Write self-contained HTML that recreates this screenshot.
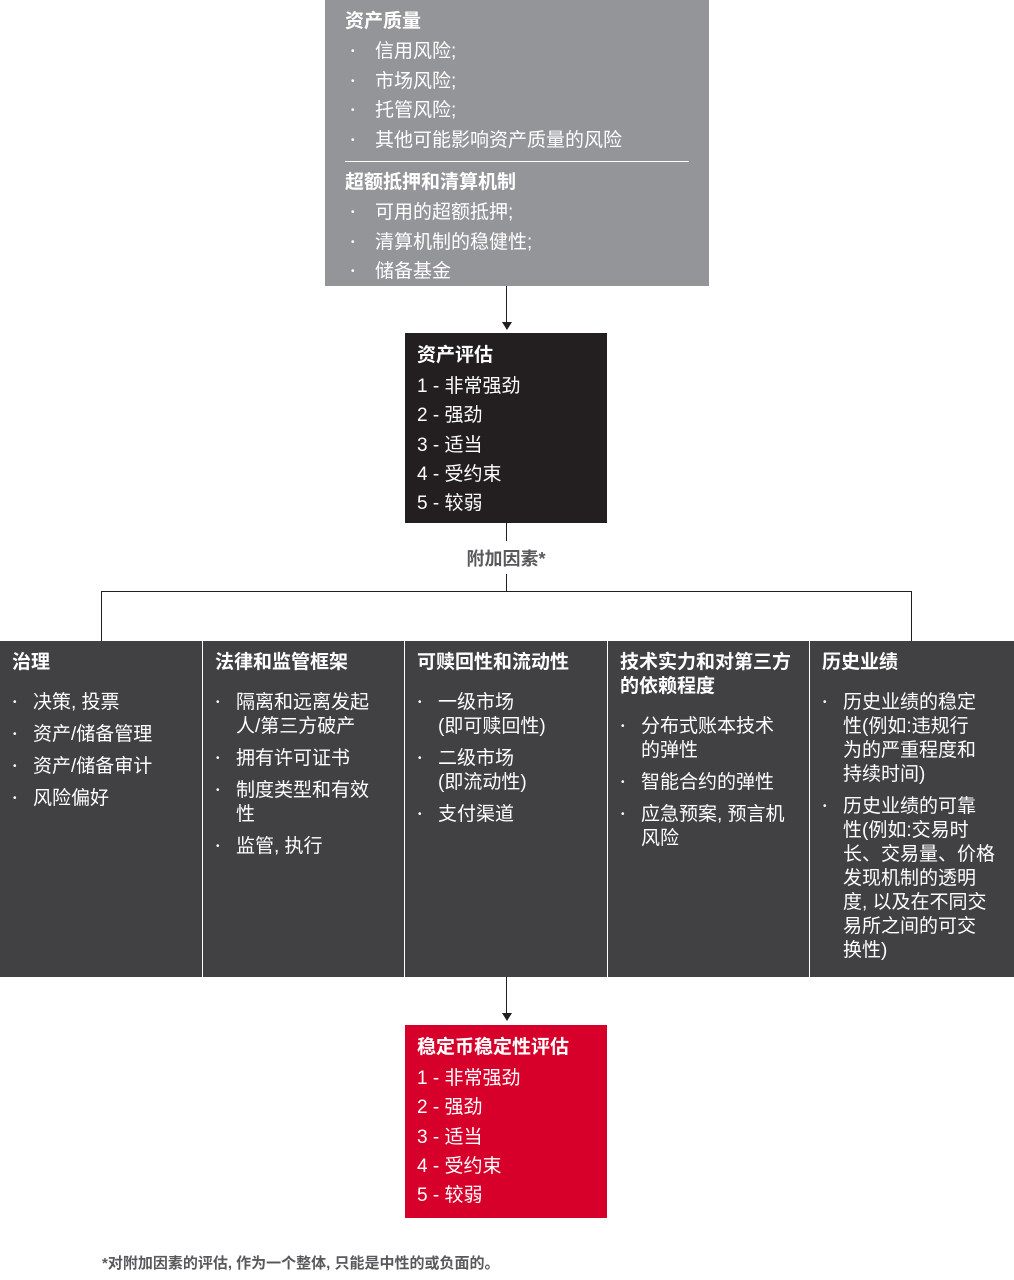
<!DOCTYPE html>
<html><head><meta charset="utf-8"><style>
body{margin:0;width:1014px;height:1280px;background:#fff;position:relative;font-family:"Liberation Sans","Noto Sans CJK SC",sans-serif;overflow:hidden}
.abs{position:absolute;box-sizing:border-box}
.top{left:325px;top:0;width:384px;height:286px;background:#939598;color:#fff;padding:9px 20px}
.h{font-weight:bold;font-size:19px;line-height:26px}
.li{font-size:19px;line-height:29.5px;padding-left:30px;position:relative}
.li:before{content:"•";position:absolute;left:6px;font-size:10px}
.blk{left:405px;width:202px;padding:10px 12px;color:#fff}
.blk .r{font-size:19px;line-height:29.3px}
.col{top:641px;height:336px;background:#414042;color:#fff;padding:10px 22px 10px 12px}
.col .h{margin-bottom:16px;line-height:24px}
.ci{font-size:19px;line-height:24px;padding-left:21px;position:relative;margin-bottom:8px}
.ci:before{content:"•";position:absolute;left:1px;font-size:10px}
.ln{position:absolute;background:#231f20}
</style></head><body>
<div class="abs top">
<div class="h" style="margin-bottom:2px">资产质量</div>
<div class="li">信用风险;</div><div class="li">市场风险;</div><div class="li">托管风险;</div><div class="li">其他可能影响资产质量的风险</div>
<div style="border-top:1px solid #fff;margin:6px 0 8px 0"></div>
<div class="h" style="margin-bottom:2px">超额抵押和清算机制</div>
<div class="li">可用的超额抵押;</div><div class="li">清算机制的稳健性;</div><div class="li">储备基金</div>
</div>
<div class="ln" style="left:506px;top:286px;width:1px;height:43px"></div>
<div class="abs" style="left:502px;top:322px;width:0;height:0;border-left:5px solid transparent;border-right:5px solid transparent;border-top:8px solid #231f20"></div>
<div class="abs blk" style="top:333px;height:190px;background:#231f20">
<div class="h" style="margin-bottom:3px">资产评估</div>
<div class="r">1 - 非常强劲</div><div class="r">2 - 强劲</div><div class="r">3 - 适当</div><div class="r">4 - 受约束</div><div class="r">5 - 较弱</div>
</div>
<div class="ln" style="left:506px;top:523px;width:1px;height:18px"></div>
<div class="abs" style="left:405px;top:545px;width:202px;text-align:center;font-weight:bold;font-size:18px;color:#58595b">附加因素*</div>
<div class="ln" style="left:506px;top:574px;width:1px;height:17px"></div>
<div class="ln" style="left:101px;top:591px;width:811px;height:1px"></div>
<div class="ln" style="left:101px;top:591px;width:1px;height:50px"></div>
<div class="ln" style="left:911px;top:591px;width:1px;height:50px"></div>
<div class="abs col" style="left:0;width:202px"><div class="h">治理</div>
<div class="ci">决策, 投票</div><div class="ci">资产/储备管理</div><div class="ci">资产/储备审计</div><div class="ci">风险偏好</div></div>
<div class="abs col" style="left:203px;width:201px"><div class="h">法律和监管框架</div>
<div class="ci">隔离和远离发起人/第三方破产</div><div class="ci">拥有许可证书</div><div class="ci">制度类型和有效性</div><div class="ci">监管, 执行</div></div>
<div class="abs col" style="left:405px;width:202px"><div class="h">可赎回性和流动性</div>
<div class="ci">一级市场<br>(即可赎回性)</div><div class="ci">二级市场<br>(即流动性)</div><div class="ci">支付渠道</div></div>
<div class="abs col" style="left:608px;width:201px;padding-right:10px"><div class="h">技术实力和对第三方的依赖程度</div>
<div class="ci" style="padding-right:12px">分布式账本技术的弹性</div><div class="ci">智能合约的弹性</div><div class="ci">应急预案, 预言机风险</div></div>
<div class="abs col" style="left:810px;width:204px;padding-right:4px;white-space:nowrap"><div class="h">历史业绩</div>
<div class="ci">历史业绩的稳定<br>性(例如:违规行<br>为的严重程度和<br>持续时间)</div><div class="ci">历史业绩的可靠<br>性(例如:交易时<br>长、交易量、价格<br>发现机制的透明<br>度, 以及在不同交<br>易所之间的可交<br>换性)</div></div>
<div class="ln" style="left:506px;top:977px;width:1px;height:40px"></div>
<div class="abs" style="left:502px;top:1013px;width:0;height:0;border-left:5px solid transparent;border-right:5px solid transparent;border-top:8px solid #231f20"></div>
<div class="abs blk" style="top:1025px;height:193px;background:#d6002a">
<div class="h" style="margin-bottom:3px">稳定币稳定性评估</div>
<div class="r">1 - 非常强劲</div><div class="r">2 - 强劲</div><div class="r">3 - 适当</div><div class="r">4 - 受约束</div><div class="r">5 - 较弱</div>
</div>
<div class="abs" style="left:102px;top:1252px;font-size:15px;font-weight:bold;color:#58595b">*对附加因素的评估, 作为一个整体, 只能是中性的或负面的。</div>
</body></html>
